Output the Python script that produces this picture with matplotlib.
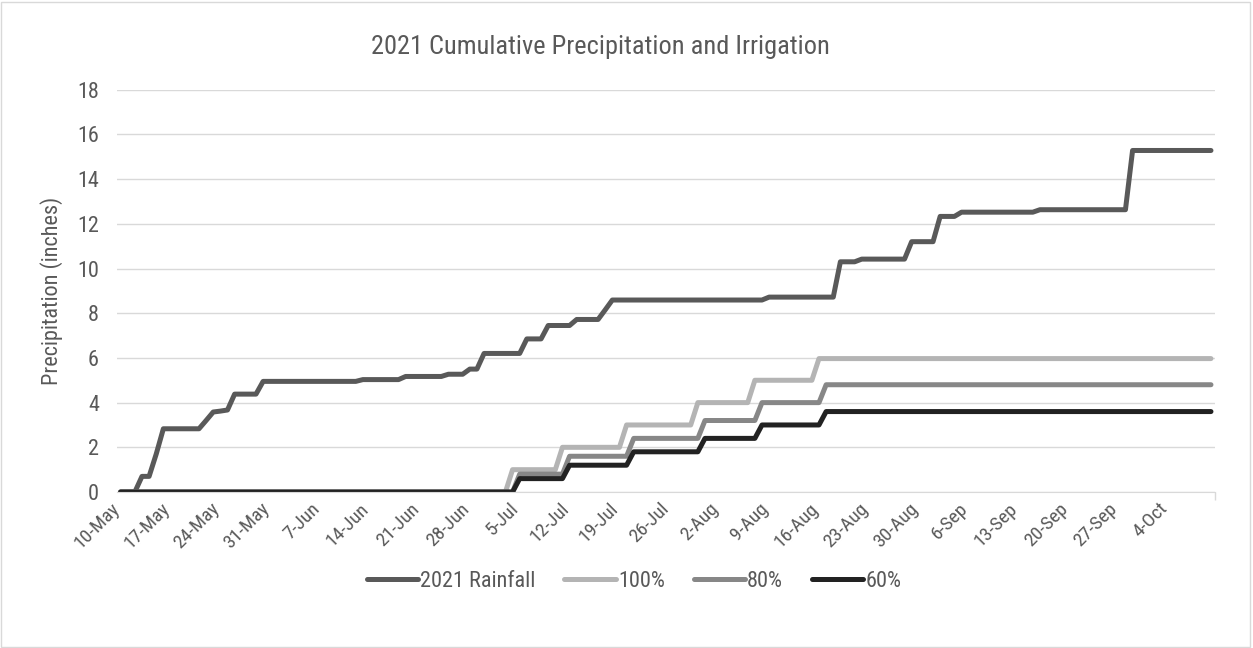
import matplotlib
matplotlib.use("Agg")
import matplotlib.pyplot as plt
import matplotlib.dates as mdates
import matplotlib.transforms as mtransforms
from matplotlib import font_manager
from matplotlib.patches import Rectangle
import pandas as pd

# font: narrow sans like the original if there is one
names = set(f.name for f in font_manager.fontManager.ttflist)
fam = [f for f in ['Liberation Sans Narrow', 'Roboto Condensed', 'Liberation Sans'] if f in names]
plt.rcParams['font.family'] = fam + ['DejaVu Sans']

# cumulative totals, listed where they change (inches)
rain_dates = ['2021-05-10', '2021-05-13', '2021-05-15', '2021-05-16', '2021-05-22',
              '2021-05-23', '2021-05-24', '2021-05-25', '2021-05-26', '2021-05-30',
              '2021-06-13', '2021-06-19', '2021-06-25', '2021-06-28', '2021-06-30',
              '2021-07-06', '2021-07-09', '2021-07-13', '2021-07-17', '2021-07-18',
              '2021-08-09', '2021-08-19', '2021-08-22', '2021-08-29', '2021-09-02',
              '2021-09-05', '2021-09-16', '2021-09-29']
rain_vals = [0, 0.7, 1.7, 2.83, 3.2,
             3.58, 3.62, 3.67, 4.38, 4.95,
             5.03, 5.17, 5.27, 5.5, 6.2,
             6.85, 7.45, 7.72, 8.15, 8.59,
             8.72, 10.3, 10.42, 11.2, 12.33,
             12.52, 12.63, 15.28]

irr100_dates = ['2021-05-10', '2021-07-04', '2021-07-11', '2021-07-20', '2021-07-30', '2021-08-07', '2021-08-16']
irr100_vals = [0, 1.0, 2.0, 3.0, 4.0, 5.0, 5.97]
irr80_dates = ['2021-05-10', '2021-07-05', '2021-07-12', '2021-07-21', '2021-07-31', '2021-08-08', '2021-08-17']
irr80_vals = [0, 0.8, 1.6, 2.4, 3.2, 4.0, 4.8]
irr60_dates = ['2021-05-10', '2021-07-05', '2021-07-12', '2021-07-21', '2021-07-31', '2021-08-08', '2021-08-17']
irr60_vals = [0, 0.6, 1.2, 1.8, 2.4, 3.0, 3.6]

days = pd.date_range('2021-05-10', '2021-10-10', freq='D')
tick_days = pd.date_range('2021-05-10', '2021-10-04', freq='7D')


def daily(dates, vals):
    s = pd.Series(vals, index=pd.to_datetime(dates))
    return s.reindex(days).ffill()


series = [
    ('2021 Rainfall', daily(rain_dates, rain_vals), '#595959'),
    ('100%', daily(irr100_dates, irr100_vals), '#b4b4b4'),
    ('80%', daily(irr80_dates, irr80_vals), '#878787'),
    ('60%', daily(irr60_dates, irr60_vals), '#222222'),
]

fig = plt.figure(figsize=(12.53, 6.48), dpi=100)
ax = fig.add_axes([0.0934, 0.2407, 0.8759, 0.6209])

# points sit in the middle of each day slot
xs = mdates.date2num(days) + 0.5
for name, s, c in series:
    ax.plot(xs, s.values, color=c, lw=3.6, label=name,
            solid_joinstyle='round', solid_capstyle='round')

ax.set_xlim(mdates.date2num(pd.Timestamp('2021-05-10')), mdates.date2num(pd.Timestamp('2021-10-11')))
ax.set_ylim(0, 18)
ax.set_yticks(range(0, 19, 2))
ax.set_xticks(mdates.date2num(tick_days))
ax.set_xticks(mdates.date2num(pd.date_range('2021-05-10', '2021-10-11', freq='7D')), minor=True)
ax.set_xticklabels([f"{d.day}-{d.strftime('%b')}" for d in tick_days],
                   rotation=45, ha='right', va='center', rotation_mode='anchor')
off = mtransforms.ScaledTranslation(6 / 100, 0, fig.dpi_scale_trans)
for lab in ax.get_xticklabels():
    lab.set_transform(lab.get_transform() + off)

ax.grid(axis='y', color='#d9d9d9', lw=1)
ax.set_axisbelow(True)
for sp in ['left', 'right', 'top']:
    ax.spines[sp].set_visible(False)
ax.spines['bottom'].set_color('#d9d9d9')
ax.tick_params(axis='y', length=0, pad=13, labelsize=16, labelcolor='#595959')
ax.tick_params(axis='x', which='major', length=0, pad=10, labelsize=14, labelcolor='#595959')
ax.tick_params(axis='x', which='minor', length=6, color='#d9d9d9', width=1)

ax.set_ylabel('Precipitation (inches)', fontsize=16, color='#595959', labelpad=10)
fig.text(0.479, 0.927, '2021 Cumulative Precipitation and Irrigation',
         ha='center', va='center', fontsize=19, color='#595959')

fig.legend(loc='center', bbox_to_anchor=(0.506, 0.103), ncol=4, frameon=False,
           fontsize=16, handlelength=2.3, handletextpad=0.1, columnspacing=1.3,
           labelcolor='#595959')

fig.patches.append(Rectangle((0.001, 0.0015), 0.997, 0.996, transform=fig.transFigure,
                             fill=False, edgecolor='#d9d9d9', lw=1))

fig.savefig('out.png', dpi=100)
